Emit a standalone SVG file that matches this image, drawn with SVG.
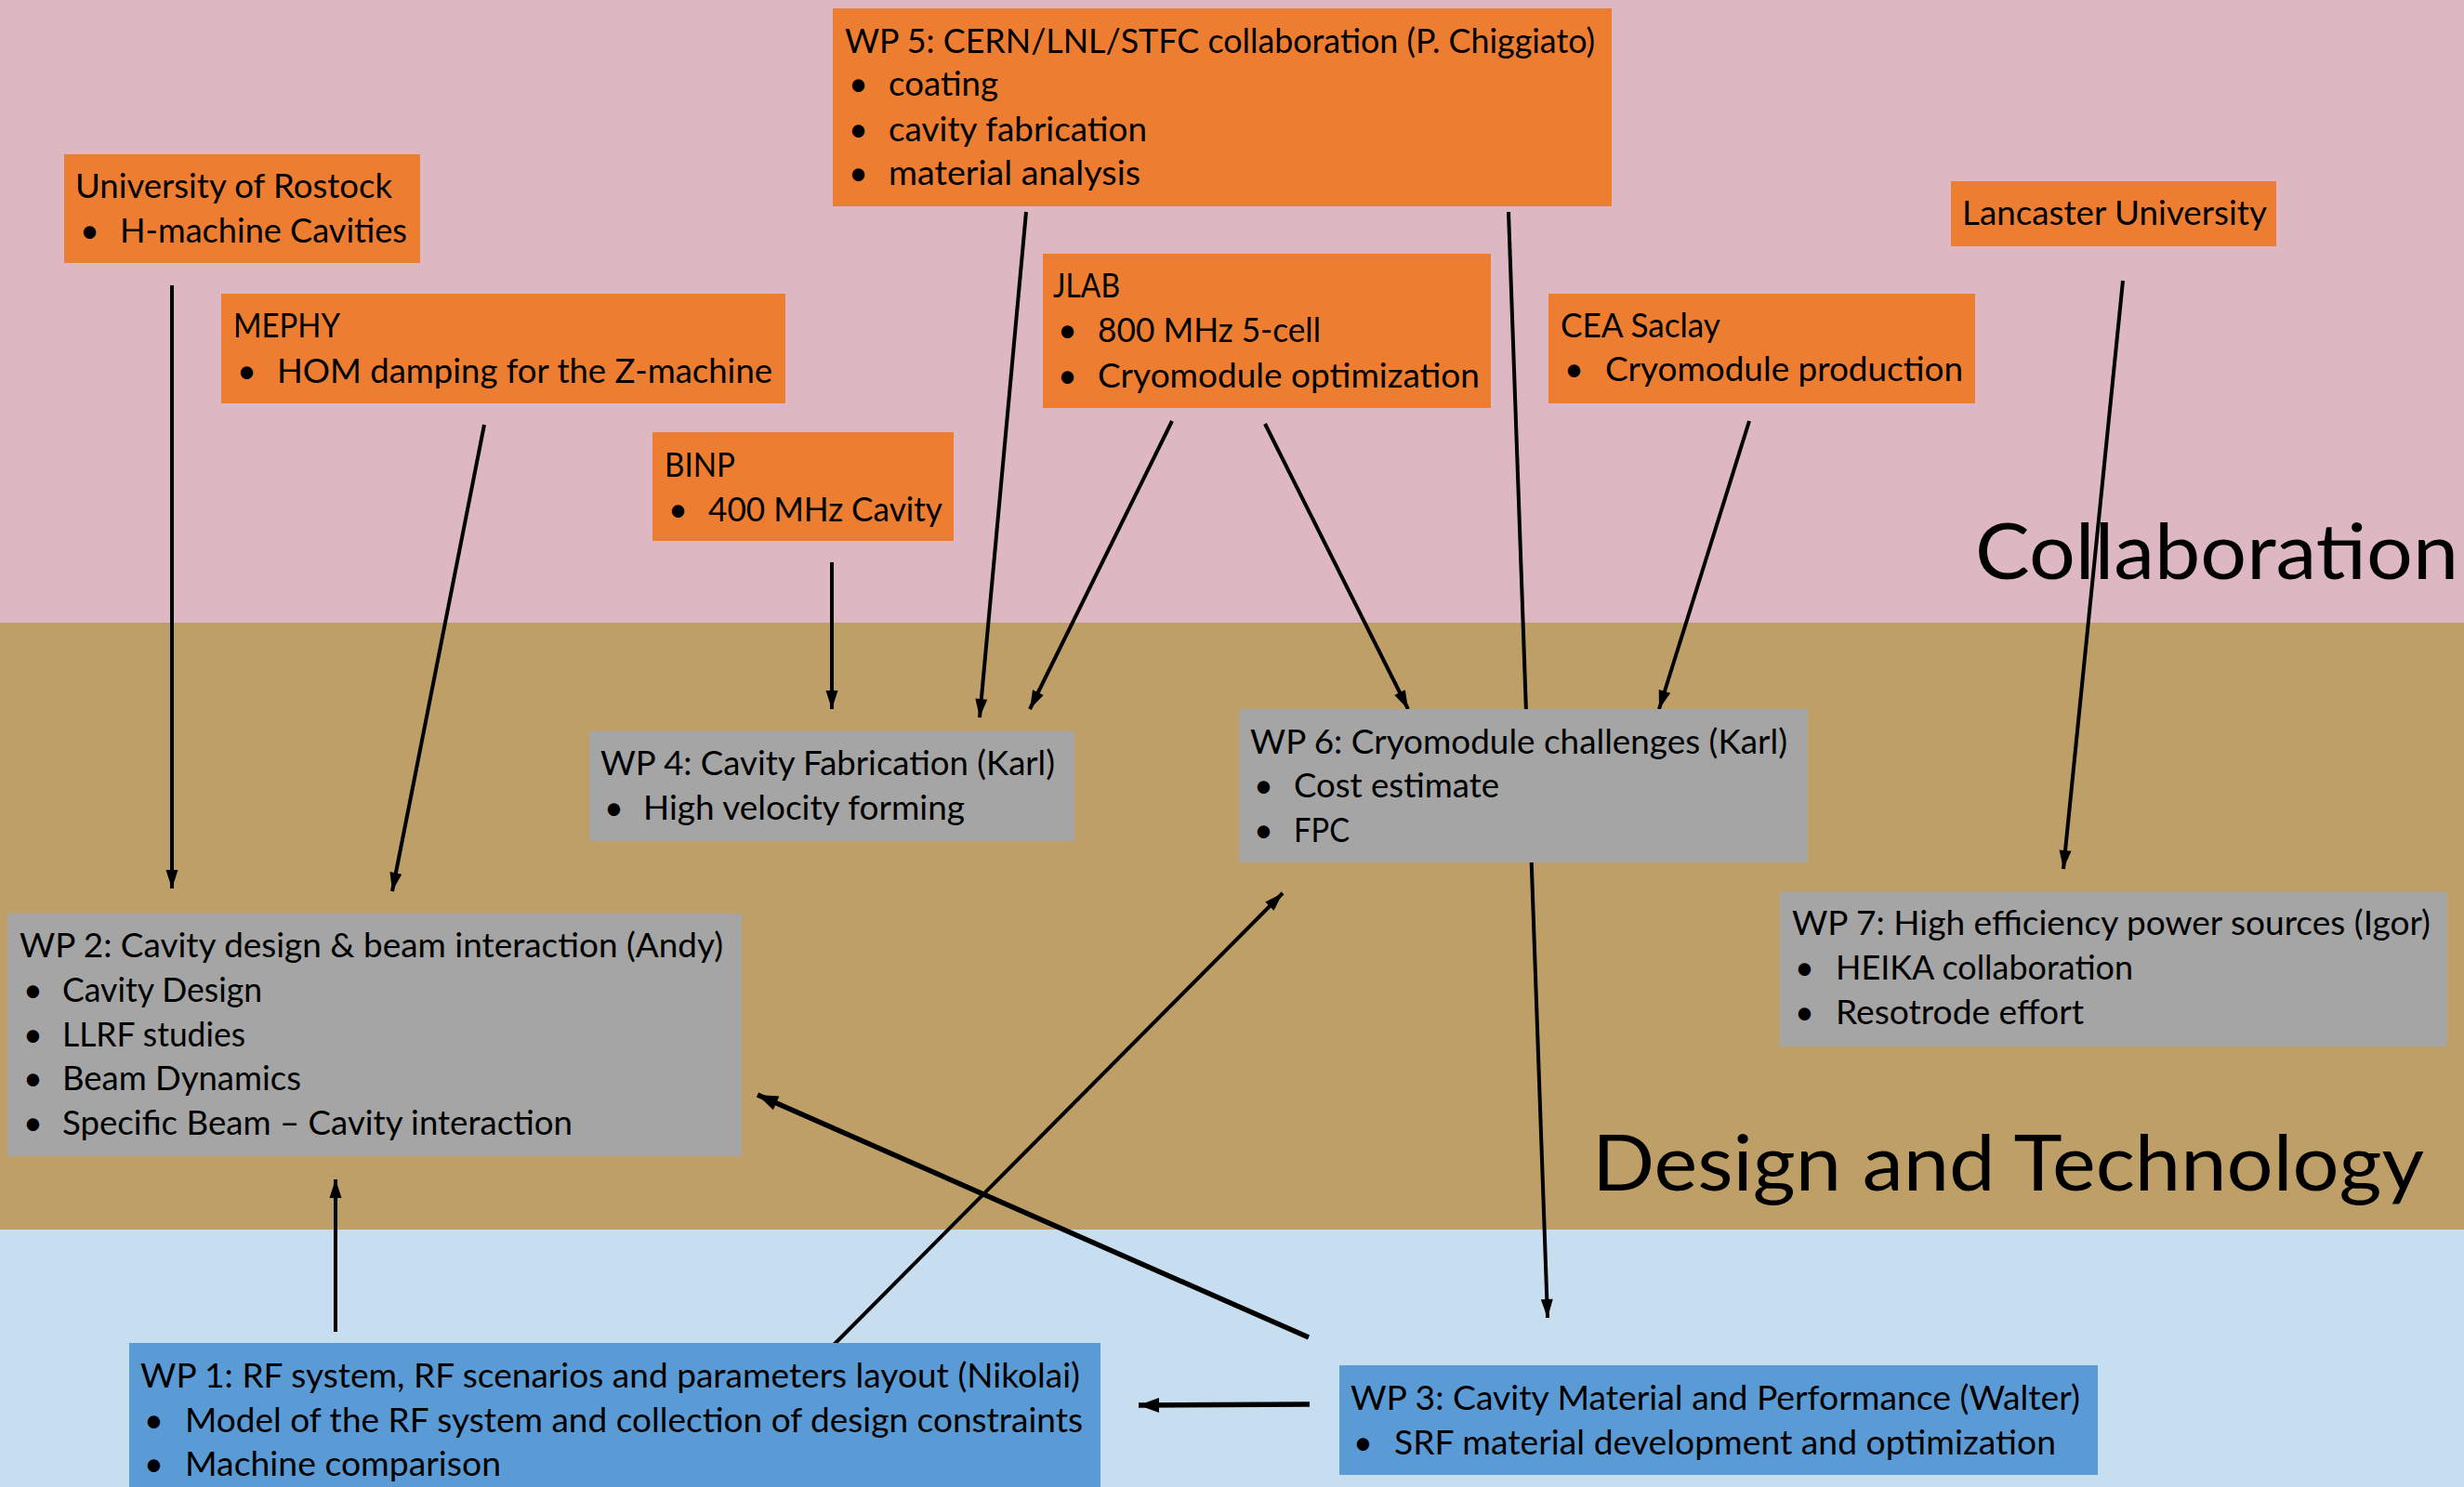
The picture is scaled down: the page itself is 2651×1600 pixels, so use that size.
<svg xmlns="http://www.w3.org/2000/svg" width="2651" height="1600" viewBox="0 0 2651 1600">
<style>
.t{font-family:Lato,"Open Sans","Liberation Sans",sans-serif;font-size:36px;fill:#000}
.big{font-family:Lato,"Open Sans","Liberation Sans",sans-serif;font-size:84px;fill:#000}
.or{fill:#ED7D31}
.gr{fill:#A5A5A5}
.bl{fill:#5B9BD5}
.ca{stroke:#000;stroke-width:4;fill:none;marker-end:url(#ah)}
.cb{stroke:#000;stroke-width:5.5;fill:none;marker-end:url(#ahb)}
</style>
<defs>
<marker id="ah" markerUnits="userSpaceOnUse" markerWidth="22" markerHeight="14" refX="20" refY="6.5" orient="auto" overflow="visible">
<path d="M0,0 L20,6.5 L0,13 z" fill="#000"/>
</marker>
<marker id="ahb" markerUnits="userSpaceOnUse" markerWidth="24" markerHeight="18" refX="22" refY="8" orient="auto" overflow="visible">
<path d="M0,0 L22,8 L0,16 z" fill="#000"/>
</marker>
</defs>
<g id="background">
<rect x="0" y="0" width="2651" height="670" fill="#DDB8C2"/>
<rect x="0" y="670" width="2651" height="653" fill="#BF9F68"/>
<rect x="0" y="1323" width="2651" height="277" fill="#C7DDF0"/>
<text class="big" x="2125" y="623" textLength="520" lengthAdjust="spacingAndGlyphs">Collaboration</text>
<text class="big" x="1713" y="1281" textLength="895" lengthAdjust="spacingAndGlyphs">Design and Technology</text>
</g>
<g id="connectors">
<line class="ca" x1="185" y1="307" x2="185" y2="956"/>
<line class="ca" x1="521" y1="457" x2="422" y2="959"/>
<line class="ca" x1="895" y1="605" x2="895" y2="763"/>
<line class="ca" x1="1104" y1="228" x2="1054" y2="772"/>
<line class="ca" x1="1261" y1="453" x2="1108" y2="763"/>
<line class="ca" x1="1361" y1="456" x2="1515" y2="763"/>
<line class="ca" x1="1882" y1="453" x2="1785" y2="763"/>
<line class="ca" x1="1623" y1="228" x2="1665" y2="1418"/>
<line class="ca" x1="2284" y1="302" x2="2220" y2="935"/>
<line class="ca" x1="361" y1="1433" x2="361" y2="1269"/>
<line class="ca" x1="897" y1="1447" x2="1380" y2="961"/>
<line class="cb" x1="1408" y1="1439" x2="815" y2="1178"/>
<line class="cb" x1="1409" y1="1511" x2="1225" y2="1512"/>
</g>
<g id="rostock">
<rect class="or" x="69" y="166" width="383" height="117"/>
<text class="t" x="81" y="213" textLength="341" lengthAdjust="spacingAndGlyphs">University of Rostock</text>
<text class="t" x="86" y="261">•</text>
<text class="t" x="129" y="261" textLength="309" lengthAdjust="spacingAndGlyphs">H-machine Cavities</text>
</g>
<g id="mephy">
<rect class="or" x="238" y="316" width="607" height="118"/>
<text class="t" x="251" y="363" textLength="115" lengthAdjust="spacingAndGlyphs">MEPHY</text>
<text class="t" x="255" y="412">•</text>
<text class="t" x="298" y="412" textLength="533" lengthAdjust="spacingAndGlyphs">HOM damping for the Z-machine</text>
</g>
<g id="binp">
<rect class="or" x="702" y="465" width="324" height="117"/>
<text class="t" x="715" y="513" textLength="76" lengthAdjust="spacingAndGlyphs">BINP</text>
<text class="t" x="719" y="561">•</text>
<text class="t" x="762" y="561" textLength="252" lengthAdjust="spacingAndGlyphs">400 MHz Cavity</text>
</g>
<g id="wp5">
<rect class="or" x="896" y="9" width="838" height="213"/>
<text class="t" x="909" y="57" textLength="807" lengthAdjust="spacingAndGlyphs">WP 5: CERN/LNL/STFC collaboration (P. Chiggiato)</text>
<text class="t" x="913" y="103">•</text>
<text class="t" x="956" y="103" textLength="118" lengthAdjust="spacingAndGlyphs">coating</text>
<text class="t" x="913" y="152">•</text>
<text class="t" x="956" y="152" textLength="278" lengthAdjust="spacingAndGlyphs">cavity fabrication</text>
<text class="t" x="913" y="199">•</text>
<text class="t" x="956" y="199" textLength="271" lengthAdjust="spacingAndGlyphs">material analysis</text>
</g>
<g id="jlab">
<rect class="or" x="1122" y="273" width="482" height="166"/>
<text class="t" x="1133" y="320" textLength="72" lengthAdjust="spacingAndGlyphs">JLAB</text>
<text class="t" x="1138" y="368">•</text>
<text class="t" x="1181" y="368" textLength="240" lengthAdjust="spacingAndGlyphs">800 MHz 5-cell</text>
<text class="t" x="1138" y="417">•</text>
<text class="t" x="1181" y="417" textLength="411" lengthAdjust="spacingAndGlyphs">Cryomodule optimization</text>
</g>
<g id="cea">
<rect class="or" x="1666" y="316" width="459" height="118"/>
<text class="t" x="1679" y="363" textLength="172" lengthAdjust="spacingAndGlyphs">CEA Saclay</text>
<text class="t" x="1683" y="410">•</text>
<text class="t" x="1727" y="410" textLength="385" lengthAdjust="spacingAndGlyphs">Cryomodule production</text>
</g>
<g id="lancaster">
<rect class="or" x="2099" y="195" width="350" height="70"/>
<text class="t" x="2111" y="242" textLength="328" lengthAdjust="spacingAndGlyphs">Lancaster University</text>
</g>
<g id="wp4">
<rect class="gr" x="634" y="787" width="522" height="118"/>
<text class="t" x="646" y="834" textLength="489" lengthAdjust="spacingAndGlyphs">WP 4: Cavity Fabrication (Karl)</text>
<text class="t" x="650" y="882">•</text>
<text class="t" x="692" y="882" textLength="346" lengthAdjust="spacingAndGlyphs">High velocity forming</text>
</g>
<g id="wp6">
<rect class="gr" x="1333" y="763" width="612" height="165"/>
<text class="t" x="1345" y="811" textLength="578" lengthAdjust="spacingAndGlyphs">WP 6: Cryomodule challenges (Karl)</text>
<text class="t" x="1349" y="858">•</text>
<text class="t" x="1392" y="858" textLength="221" lengthAdjust="spacingAndGlyphs">Cost estimate</text>
<text class="t" x="1349" y="906">•</text>
<text class="t" x="1392" y="906" textLength="60" lengthAdjust="spacingAndGlyphs">FPC</text>
</g>
<g id="wp2">
<rect class="gr" x="8" y="983" width="790" height="261"/>
<text class="t" x="21" y="1030" textLength="757" lengthAdjust="spacingAndGlyphs">WP 2: Cavity design &amp; beam interaction (Andy)</text>
<text class="t" x="25" y="1078">•</text>
<text class="t" x="67" y="1078" textLength="215" lengthAdjust="spacingAndGlyphs">Cavity Design</text>
<text class="t" x="25" y="1126">•</text>
<text class="t" x="67" y="1126" textLength="197" lengthAdjust="spacingAndGlyphs">LLRF studies</text>
<text class="t" x="25" y="1173">•</text>
<text class="t" x="67" y="1173" textLength="257" lengthAdjust="spacingAndGlyphs">Beam Dynamics</text>
<text class="t" x="25" y="1221">•</text>
<text class="t" x="67" y="1221" textLength="549" lengthAdjust="spacingAndGlyphs">Specific Beam – Cavity interaction</text>
</g>
<g id="wp7">
<rect class="gr" x="1915" y="960" width="718" height="166"/>
<text class="t" x="1928" y="1006" textLength="687" lengthAdjust="spacingAndGlyphs">WP 7: High efficiency power sources (Igor)</text>
<text class="t" x="1931" y="1054">•</text>
<text class="t" x="1975" y="1054" textLength="320" lengthAdjust="spacingAndGlyphs">HEIKA collaboration</text>
<text class="t" x="1931" y="1102">•</text>
<text class="t" x="1975" y="1102" textLength="267" lengthAdjust="spacingAndGlyphs">Resotrode effort</text>
</g>
<g id="wp1">
<rect class="bl" x="139" y="1445" width="1045" height="160"/>
<text class="t" x="151" y="1493" textLength="1011" lengthAdjust="spacingAndGlyphs">WP 1: RF system, RF scenarios and parameters layout (Nikolai)</text>
<text class="t" x="155" y="1541">•</text>
<text class="t" x="199" y="1541" textLength="966" lengthAdjust="spacingAndGlyphs">Model of the RF system and collection of design constraints</text>
<text class="t" x="155" y="1588">•</text>
<text class="t" x="199" y="1588" textLength="340" lengthAdjust="spacingAndGlyphs">Machine comparison</text>
</g>
<g id="wp3">
<rect class="bl" x="1441" y="1469" width="816" height="118"/>
<text class="t" x="1453" y="1517" textLength="785" lengthAdjust="spacingAndGlyphs">WP 3: Cavity Material and Performance (Walter)</text>
<text class="t" x="1456" y="1565">•</text>
<text class="t" x="1500" y="1565" textLength="712" lengthAdjust="spacingAndGlyphs">SRF material development and optimization</text>
</g>
</svg>
